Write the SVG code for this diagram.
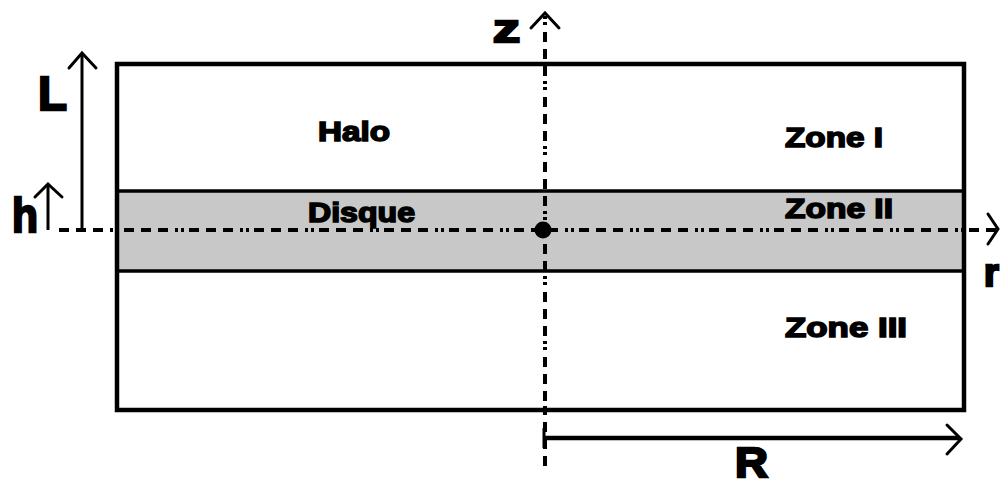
<svg xmlns="http://www.w3.org/2000/svg" width="1001" height="486" viewBox="0 0 1001 486">
<style>
.lbl{font-family:"Liberation Sans",Arial,sans-serif;font-weight:bold;fill:#000;stroke:#000;stroke-width:1.6}
.big{font-family:"Liberation Sans",Arial,sans-serif;font-weight:bold;fill:#000;stroke:#000;stroke-width:2.4}
.axis{fill:none;stroke:#000;stroke-width:4;stroke-dasharray:10 7 10 7 10 7 3 3 3 5}
.arr{fill:none;stroke:#000;stroke-width:3}
.head{fill:none;stroke:#000;stroke-width:3;stroke-linecap:round;stroke-linejoin:miter}
</style>
<rect width="1001" height="486" fill="#fff"/>
<g id="disk-band">
<rect x="117" y="191" width="847" height="80" fill="#c8c8c8"/>
<line x1="117" y1="191" x2="964" y2="191" stroke="#000" stroke-width="3.5"/>
<line x1="117" y1="271" x2="964" y2="271" stroke="#000" stroke-width="3.5"/>
</g>
<g id="outer-box">
<rect x="117" y="64" width="847" height="346" fill="none" stroke="#000" stroke-width="4.5"/>
</g>
<g id="connectors">
<line class="axis" x1="59" y1="230" x2="997" y2="230"/>
<polyline class="head" points="988,214 998,229 988,244"/>
<line class="axis" x1="545" y1="466" x2="545" y2="15"/>
<polyline class="head" points="531,28 545,13 559,28"/>
<line class="arr" x1="82" y1="230" x2="82" y2="53"/>
<polyline class="head" points="69,68 82,53 96,68"/>
<line class="arr" x1="48" y1="230" x2="48" y2="184"/>
<polyline class="head" points="35,197 48,184 62,197"/>
<line x1="544" y1="438" x2="959" y2="438" stroke="#000" stroke-width="4.5"/>
<line x1="544" y1="428" x2="544" y2="448" stroke="#000" stroke-width="3"/>
<polyline class="head" points="947,425 961,439 947,454"/>
</g>
<g id="origin"><circle cx="543" cy="230" r="8.5" fill="#000"/></g>
<g id="labels">
<text class="lbl" x="318" y="141" font-size="28" textLength="72" lengthAdjust="spacingAndGlyphs">Halo</text>
<text class="lbl" x="308" y="222" font-size="28" textLength="107" lengthAdjust="spacingAndGlyphs">Disque</text>
<text class="lbl" x="785" y="147" font-size="28" textLength="98" lengthAdjust="spacingAndGlyphs">Zone I</text>
<text class="lbl" x="785" y="218" font-size="28" textLength="108" lengthAdjust="spacingAndGlyphs">Zone II</text>
<text class="lbl" x="785" y="337" font-size="28" textLength="122" lengthAdjust="spacingAndGlyphs">Zone III</text>
<text class="big" x="38" y="110" font-size="48" textLength="29" lengthAdjust="spacingAndGlyphs">L</text>
<text class="big" x="12" y="232" font-size="48" textLength="26" lengthAdjust="spacingAndGlyphs">h</text>
<text class="big" x="493" y="42" font-size="38" textLength="27" lengthAdjust="spacingAndGlyphs">z</text>
<text class="big" x="984" y="286" font-size="38">r</text>
<text class="big" x="735" y="477" font-size="43" textLength="33" lengthAdjust="spacingAndGlyphs">R</text>
</g>
</svg>
